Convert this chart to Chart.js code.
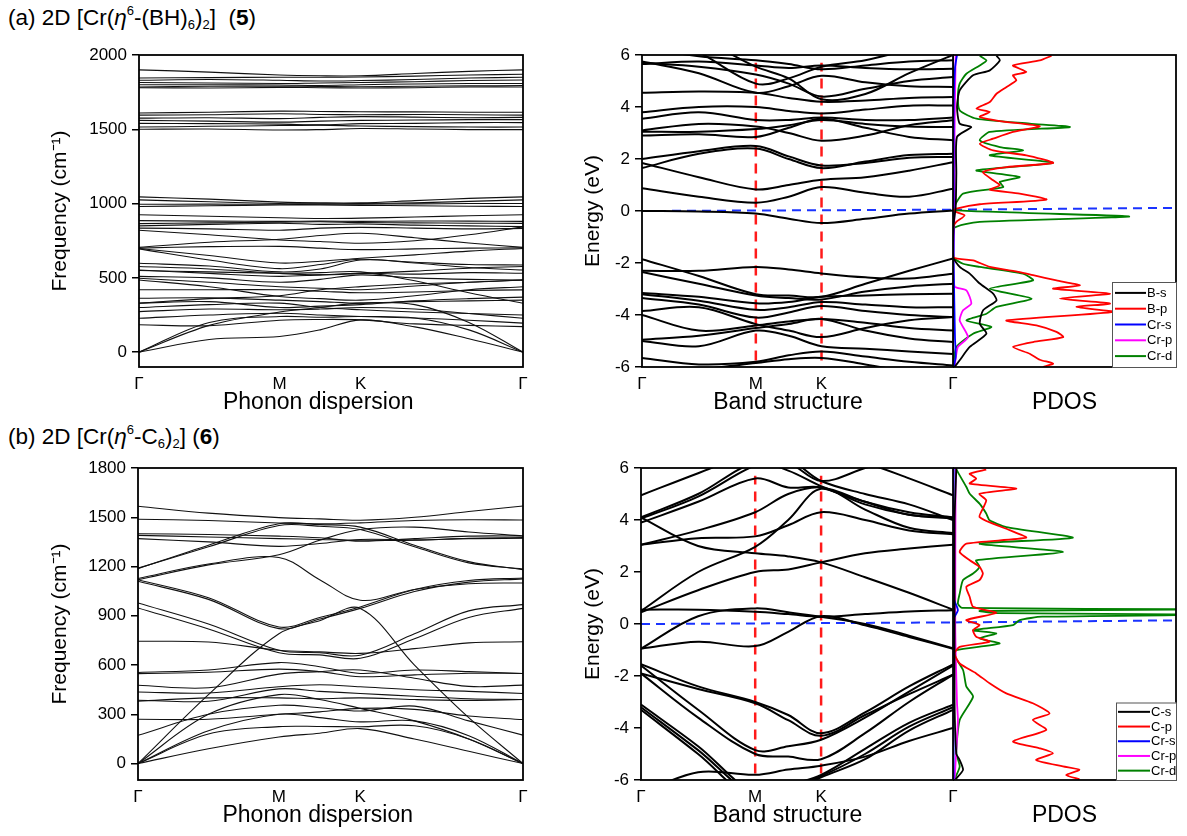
<!DOCTYPE html>
<html><head><meta charset="utf-8">
<script src="https://cdn.jsdelivr.net/npm/chart.js@4.4.0/dist/chart.umd.min.js"></script>
<style>
html,body{margin:0;padding:0;background:#fff;}
body{width:1187px;height:836px;position:relative;overflow:hidden;font-family:'Liberation Sans',Arial,sans-serif;}
canvas{position:absolute;}
.hdr{position:absolute;left:8px;font-size:22.5px;color:#000;white-space:pre;line-height:22px;}
.hdr sup,.hdr sub{font-size:13px;position:relative;vertical-align:baseline;line-height:0;}
.hdr sup{top:-0.75em;}
.hdr sub{top:0.3em;}
</style></head><body>
<div class="hdr" style="top:7px">(a) 2D [Cr(<i>η</i><sup>6</sup>-(BH)<sub>6</sub>)<sub>2</sub>]  (<b>5</b>)</div>
<div class="hdr" style="top:426px">(b) 2D [Cr(<i>η</i><sup>6</sup>-C<sub>6</sub>)<sub>2</sub>] (<b>6</b>)</div>
<canvas id="phA" width="540" height="378" style="left:0;top:40px"></canvas>
<canvas id="bsA" width="400" height="378" style="left:560px;top:40px"></canvas>
<canvas id="pdA" width="234" height="378" style="left:953px;top:40px"></canvas>
<canvas id="phB" width="540" height="378" style="left:0;top:453px"></canvas>
<canvas id="bsB" width="400" height="378" style="left:560px;top:453px"></canvas>
<canvas id="pdB" width="234" height="378" style="left:953px;top:453px"></canvas>
<script>
// ---------- path / ticks ----------
const kPath = [0, 0.5, 1, 1.289, 1.577, 1.962, 2.347, 2.732];
const kTicks = [0, 1, 1.577, 2.732];
const kLabels = ['Γ', 'M', 'K', 'Γ'];
const phononATicks = [0, 500, 1000, 1500, 2000];
const phononBTicks = [0, 300, 600, 900, 1200, 1500, 1800];
const energyTicks = [-6, -4, -2, 0, 2, 4, 6];
const symLineSpan = [-5.75, 5.7];
const fermiA = [0.0, 0.05, 0.12];
const fermiB = [0.0, 0.06, 0.14];
const pdosMax = 10;

// ---------- phonon (a) ----------
const phononA = [
 [1900,1885,1865,1860,1860,1875,1890,1900],
 [1845,1848,1850,1850,1852,1858,1865,1870],
 [1830,1835,1830,1825,1828,1835,1845,1850],
 [1815,1812,1808,1812,1815,1820,1828,1832],
 [1800,1800,1798,1795,1800,1805,1808,1808],
 [1785,1790,1790,1788,1786,1790,1792,1795],
 [1780,1778,1782,1780,1778,1780,1785,1785],
 [1610,1615,1622,1620,1618,1617,1615,1615],
 [1595,1598,1605,1600,1598,1600,1598,1595],
 [1575,1578,1572,1580,1585,1582,1578,1580],
 [1560,1555,1548,1555,1560,1562,1565,1565],
 [1540,1538,1535,1530,1538,1540,1545,1545],
 [1515,1520,1525,1528,1522,1518,1515,1515],
 [1500,1502,1495,1498,1505,1502,1498,1498],
 [1045,1030,1010,1005,1005,1020,1035,1045],
 [1025,1012,1000,998,1000,1005,1015,1025],
 [995,996,995,995,996,998,1000,1000],
 [980,985,990,990,988,985,982,980],
 [925,915,905,900,902,910,918,925],
 [885,882,880,882,880,883,882,880],
 [865,870,875,878,872,870,868,867],
 [850,860,868,860,862,855,850,845],
 [835,830,820,835,840,835,830,833],
 [820,790,755,745,733,750,790,843],
 [705,740,760,785,800,770,735,705],
 [700,710,712,700,690,695,700,702],
 [695,620,562,590,625,600,570,553],
 [698,650,600,612,632,655,680,698],
 [598,580,540,560,620,605,590,587],
 [576,560,530,520,530,545,565,576],
 [553,530,510,520,530,525,535,531],
 [510,500,470,490,520,500,490,486],
 [497,470,440,430,420,445,470,486],
 [420,420,420,410,400,405,415,419],
 [486,440,374,360,350,380,420,440],
 [363,365,350,340,330,340,345,350],
 [329,340,300,310,320,345,360,370],
 [300,320,330,300,285,270,260,250],
 [273,290,285,290,300,290,260,228],
 [228,250,262,250,240,230,215,195],
 [184,178,215,220,217,190,180,172],
 [330,360,380,420,441,460,470,486],
 [550,540,531,535,540,480,400,329],
 [0,85,105,150,217,170,90,0],
 [0,200,240,235,240,230,150,0],
 [0,180,270,300,330,320,200,0]
];

// ---------- phonon (b) ----------
const phononB = [
 [1567,1525,1498,1490,1482,1500,1535,1569],
 [1488,1480,1465,1460,1466,1480,1485,1483],
 [1400,1395,1385,1375,1354,1370,1385,1386],
 [1390,1380,1370,1365,1360,1360,1372,1376],
 [1370,1350,1323,1340,1365,1362,1370,1372],
 [1187,1330,1461,1455,1440,1330,1230,1181],
 [1190,1320,1450,1445,1425,1320,1222,1185],
 [1120,1210,1272,1360,1425,1440,1410,1386],
 [1127,1215,1255,1120,995,1060,1095,1100],
 [1120,1010,832,890,954,1060,1115,1130],
 [1110,1000,822,880,945,1048,1105,1125],
 [978,850,690,675,660,790,930,968],
 [948,820,675,662,641,760,890,945],
 [0,420,791,870,945,600,280,0],
 [745,740,690,680,671,700,735,742],
 [555,570,615,590,549,570,560,549],
 [548,556,575,560,529,540,550,549],
 [477,462,545,560,570,520,470,478],
 [436,430,468,480,468,450,440,427],
 [386,380,455,440,427,410,395,390],
 [380,400,400,395,400,390,385,390],
 [270,270,300,315,336,330,290,268],
 [172,300,355,340,320,350,260,173],
 [0,90,162,185,213,150,75,0],
 [0,200,300,280,254,260,170,0],
 [0,180,225,226,224,230,150,0],
 [0,300,420,390,336,260,150,0]
];

// ---------- band structure (a) ----------
const bandsA = [
 [0.88,0.55,0.32,0.55,0.92,0.7,0.55,0.86],
 [1.85,1.3,0.83,1.0,1.2,1.3,1.55,1.88],
 [2.0,2.3,2.5,2.1,1.75,1.85,2.05,2.08],
 [1.65,2.2,2.4,2.0,1.65,1.9,2.15,2.2],
 [2.9,2.95,2.85,3.2,3.55,3.2,2.85,2.72],
 [3.05,3.05,3.15,3.3,3.5,3.35,3.25,3.23],
 [3.1,3.35,3.25,3.0,2.7,2.9,3.3,3.49],
 [3.55,3.8,3.5,3.5,3.6,3.5,3.5,3.6],
 [3.8,4.0,4.0,3.85,3.75,3.9,4.05,4.06],
 [4.55,4.6,4.55,4.35,4.2,4.25,4.35,4.38],
 [5.75,5.3,4.55,4.8,5.2,4.95,4.8,4.77],
 [5.7,5.55,5.25,4.9,4.4,4.7,5.0,5.15],
 [5.65,5.75,5.6,5.5,5.6,5.5,5.45,5.47],
 [6.3,5.95,5.8,5.65,5.45,5.6,5.75,5.8],
 [7.0,6.1,4.9,5.1,5.55,5.8,6.2,6.5],
 [7.0,6.6,5.55,5.1,4.3,4.5,5.3,6.0],
 [0.0,-0.02,-0.1,-0.3,-0.46,-0.3,-0.1,0.02],
 [-1.85,-2.5,-3.2,-3.25,-3.3,-2.8,-2.3,-1.83],
 [-2.3,-2.3,-2.15,-2.25,-2.4,-2.55,-2.6,-2.41],
 [-2.35,-2.8,-3.25,-3.35,-3.4,-3.1,-2.9,-2.8],
 [-3.15,-3.3,-3.55,-3.5,-3.3,-3.25,-3.2,-3.18],
 [-3.2,-3.45,-3.8,-3.7,-3.5,-3.6,-3.7,-3.7],
 [-3.85,-3.7,-4.35,-4.6,-4.85,-4.5,-4.2,-4.08],
 [-4.0,-4.6,-4.4,-4.25,-4.15,-4.3,-4.5,-4.6],
 [-4.95,-4.8,-4.5,-4.35,-4.15,-4.6,-4.9,-5.04],
 [-5.0,-5.2,-4.6,-4.8,-5.2,-5.3,-5.4,-5.5],
 [-5.65,-5.9,-5.8,-5.55,-5.4,-5.6,-5.8,-5.94],
 [-6.3,-6.1,-5.85,-5.7,-5.65,-5.9,-6.2,-6.5],
 [-3.35,-3.6,-4.1,-3.9,-3.65,-3.85,-4.0,-4.08]
];

// ---------- band structure (b) ----------
const bandsB = [
 [0.55,0.55,0.47,0.38,0.28,0.38,0.48,0.53],
 [-0.95,0.3,0.6,0.45,0.28,0.0,-0.45,-0.93],
 [-0.95,-0.68,-0.85,-0.3,0.3,-0.05,-0.5,-0.95],
 [0.45,1.3,2.0,2.1,2.37,2.72,2.9,3.05],
 [4.1,3.0,2.72,2.6,2.37,1.8,1.2,0.55],
 [0.5,2.0,2.97,4.0,5.2,4.4,3.7,3.5],
 [3.05,3.3,3.37,3.8,4.3,4.0,3.6,3.45],
 [3.05,3.6,4.3,5.0,5.25,4.7,4.2,4.1],
 [4.95,5.8,6.6,6.6,6.6,6.2,5.6,4.95],
 [4.1,5.0,6.2,5.9,5.3,4.7,4.3,4.1],
 [3.9,4.7,5.6,5.25,5.25,4.6,4.2,4.05],
 [4.05,4.9,6.1,6.3,5.5,5.0,4.6,4.0],
 [6.6,6.6,6.3,6.2,5.5,6.0,6.5,6.6],
 [-1.55,-2.4,-3.0,-3.5,-4.2,-3.4,-2.4,-1.55],
 [-1.6,-3.3,-4.85,-4.7,-4.45,-3.6,-2.6,-1.6],
 [-1.9,-2.5,-3.05,-3.7,-4.3,-3.5,-2.7,-1.95],
 [-1.9,-3.6,-5.0,-5.1,-5.2,-4.2,-3.0,-1.95],
 [-3.1,-4.7,-6.5,-6.2,-5.8,-4.8,-3.8,-3.1],
 [-3.2,-4.85,-6.6,-6.3,-5.85,-5.0,-3.95,-3.2],
 [-3.3,-5.0,-6.8,-6.5,-5.9,-5.2,-4.1,-3.3],
 [-6.5,-5.7,-5.8,-5.6,-5.45,-5.1,-4.5,-4.0]
];

// ---------- PDOS (a): [energy eV, DOS] ----------
const pdosA_Bs = [[5.97,1.95],[5.79,2.1],[5.41,1.65],[5.22,0.9],[4.64,0.3],[4.0,0.18],[3.36,0.3],[3.23,0.82],[2.85,0.18],[1.44,0.15],[0.15,0.12],[-0.49,0.03],[-1.77,0.01],[-2.15,0.3],[-2.41,0.75],[-2.79,1.2],[-3.18,1.8],[-3.44,1.95],[-3.82,1.35],[-4.33,1.2],[-4.72,1.5],[-5.23,0.75],[-5.74,0.3],[-6.0,0.07]];
const pdosA_Bp = [[5.97,4.42],[5.79,3.89],[5.6,2.69],[5.35,3.29],[5.22,2.69],[5.03,2.84],[4.77,2.4],[4.51,1.95],[4.19,1.65],[3.94,1.05],[3.81,1.65],[3.62,1.2],[3.46,2.1],[3.26,3.89],[3.04,2.69],[2.78,1.8],[2.59,1.2],[2.33,1.8],[2.14,3.29],[1.85,4.49],[1.69,2.4],[1.5,1.35],[1.18,1.8],[0.99,2.1],[0.82,1.65],[0.67,2.99],[0.44,4.19],[0.26,1.2],[0.09,0.15],[0.0,0.03],[-0.17,0.52],[-0.42,0.15],[-0.62,0.01],[-1.77,0.01],[-1.9,0.9],[-2.15,1.65],[-2.35,2.99],[-2.47,3.59],[-2.67,4.64],[-2.86,5.69],[-2.99,4.49],[-3.18,7.04],[-3.37,4.79],[-3.56,7.04],[-3.69,5.54],[-3.88,7.19],[-4.21,2.4],[-4.4,3.74],[-4.65,4.64],[-4.85,4.94],[-5.04,3.59],[-5.23,2.69],[-5.49,3.44],[-5.72,3.89],[-5.87,4.49],[-6.0,4.04]];
const pdosA_Crs = [[6.0,0.18],[5.5,0.09],[4.0,0.03],[0.0,0.03],[-2.0,0.03],[-4.9,0.09],[-5.6,0.12],[-6.0,0.03]];
const pdosA_Crp = [[6.0,0.12],[3.0,0.07],[0.0,0.07],[-1.8,0.02],[-2.9,0.07],[-3.05,0.6],[-3.56,0.82],[-3.82,0.45],[-4.21,0.3],[-4.85,0.67],[-5.23,0.22],[-6.0,0.07]];
const pdosA_Crd = [[5.97,1.2],[5.79,1.5],[5.6,1.2],[5.28,0.6],[4.9,0.3],[4.38,0.22],[3.87,0.3],[3.55,1.05],[3.36,3.44],[3.23,5.24],[3.04,1.65],[2.72,1.2],[2.46,2.1],[2.33,3.14],[2.14,1.65],[1.85,4.49],[1.56,1.05],[1.31,2.99],[1.12,2.1],[0.92,2.25],[0.67,0.45],[0.28,0.12],[0.03,0.01],[-0.21,7.9],[-0.42,1.2],[-0.68,0.01],[-1.77,0.01],[-2.03,0.45],[-2.15,1.2],[-2.41,3.14],[-2.67,3.59],[-2.99,1.65],[-3.37,3.52],[-3.69,1.95],[-3.95,1.5],[-4.21,0.6],[-4.46,1.72],[-4.72,0.9],[-5.23,0.15],[-6.0,0.01]];

// ---------- PDOS (b) ----------
const pdosB_Cs = [[6.0,0.15],[4.0,0.07],[0.0,0.07],[-3.0,0.07],[-5.0,0.15],[-5.23,0.3],[-5.61,0.45],[-5.97,0.12]];
const pdosB_Cp = [[5.94,1.49],[5.78,0.75],[5.59,1.04],[5.4,0.75],[5.21,2.84],[5.01,1.19],[4.76,1.49],[4.44,1.34],[4.12,1.19],[3.86,1.79],[3.61,2.54],[3.32,3.28],[3.09,0.6],[2.77,0.3],[2.45,0.75],[2.2,1.19],[1.94,1.34],[1.69,1.19],[1.43,0.6],[1.04,0.75],[0.66,0.9],[0.43,1.94],[0.15,0.6],[-0.04,1.19],[-0.24,0.9],[-0.49,1.04],[-0.68,1.64],[-0.88,0.3],[-1.13,0.07],[-1.52,0.3],[-1.9,1.04],[-2.28,1.64],[-2.67,2.39],[-3.05,3.58],[-3.44,4.33],[-3.69,3.58],[-4.07,4.18],[-4.52,2.69],[-4.78,3.88],[-4.97,4.48],[-5.23,3.73],[-5.48,4.93],[-5.61,5.67],[-5.81,5.07],[-5.97,5.67]];
const pdosB_Crs = [[6.0,0.03],[1.0,0.03],[0.53,0.22],[0.2,0.03],[-6.0,0.03]];
const pdosB_Crp = [[6.0,0.12],[0.0,0.1],[-3.05,0.18],[-3.69,0.22],[-6.0,0.07]];
const pdosB_Crd = [[5.94,0.15],[5.27,0.6],[5.01,0.75],[4.63,1.19],[4.25,1.49],[3.99,1.64],[3.73,2.39],[3.32,5.37],[3.09,1.19],[2.77,4.93],[2.45,1.04],[2.2,1.19],[1.94,0.9],[1.69,0.45],[1.17,0.3],[0.78,0.22],[0.62,0.4],[0.56,12],[0.5,1.2],[0.42,2.0],[0.36,12],[0.28,4.0],[0.15,2.99],[-0.04,2.69],[-0.24,0.9],[-0.36,1.94],[-0.56,1.19],[-0.75,2.09],[-1.0,0.15],[-1.13,0.01],[-1.77,0.45],[-2.41,0.6],[-2.8,0.9],[-3.69,0.3],[-4.97,0.15],[-5.48,0.3],[-5.97,0.07]];

const pdosLabelsA = ['B-s', 'B-p', 'Cr-s', 'Cr-p', 'Cr-d'];
const pdosLabelsB = ['C-s', 'C-p', 'Cr-s', 'Cr-p', 'Cr-d'];
const pdosColors = ['#000000', '#ff0000', '#0000ff', '#ff00ff', '#008000'];

// ---------- helpers ----------
Chart.defaults.font.family = "'Liberation Sans', Arial, sans-serif";
Chart.defaults.color = '#000';

const framePlugin = {
  id: 'frame',
  afterDatasetsDraw(chart, args, opts) {
    const a = chart.chartArea, ctx = chart.ctx;
    ctx.save();
    ctx.strokeStyle = '#000';
    ctx.lineWidth = opts.width || 1.8;
    ctx.strokeRect(a.left, a.top, a.right - a.left, a.bottom - a.top);
    ctx.restore();
  }
};
const boxLegend = {
  id: 'boxLegend',
  afterDraw(chart, args, opts) {
    if (!opts || !opts.show) return;
    const a = chart.chartArea, ctx = chart.ctx;
    const items = chart.data.datasets.filter(d => d.inLegend);
    const h = items.length * opts.rowH + opts.padY * 2;
    const x0 = a.right - opts.width, y0 = a.bottom - h;
    ctx.save();
    ctx.fillStyle = '#fff';
    ctx.fillRect(x0, y0, opts.width, h);
    ctx.strokeStyle = '#555';
    ctx.lineWidth = 1;
    ctx.strokeRect(x0 + 0.5, y0 + 0.5, opts.width, h);
    ctx.font = opts.fontSize + "px 'Liberation Sans', Arial, sans-serif";
    ctx.textBaseline = 'middle';
    ctx.textAlign = 'left';
    items.forEach((d, i) => {
      const y = y0 + opts.padY + opts.rowH * (i + 0.5);
      ctx.strokeStyle = d.borderColor;
      ctx.lineWidth = 2;
      ctx.beginPath();
      ctx.moveTo(x0 + opts.lineX0, y);
      ctx.lineTo(x0 + opts.lineX1, y);
      ctx.stroke();
      ctx.fillStyle = '#000';
      ctx.fillText(d.label, x0 + opts.lineX1 + 1, y + 0.5);
    });
    ctx.restore();
  }
};
Chart.register(framePlugin, boxLegend);

const zeroPad = s => { s.paddingLeft = 0; s.paddingRight = 0; s.paddingTop = 0; s.paddingBottom = 0; };

function yAxis(min, max, ticks, width, title, titlePad) {
  return {
    type: 'linear', position: 'left', min, max,
    afterBuildTicks: s => { s.ticks = ticks.map(v => ({ value: v })); },
    afterFit: s => { s.width = width; zeroPad(s); },
    ticks: { font: { size: 17 }, padding: 5, callback: v => String(v) },
    grid: { display: true, drawOnChartArea: false, drawTicks: true, tickLength: 7, color: '#000', lineWidth: 1.5 },
    border: { display: false },
    title: { display: true, text: title, font: { size: 21 }, padding: { top: titlePad, bottom: 0 } }
  };
}
function hiddenY(min, max) {
  return { type: 'linear', position: 'left', min, max, display: false };
}
function xAxis(min, max, tickVals, labels, height, title, showTicks) {
  return {
    type: 'linear', position: 'bottom', min, max,
    afterBuildTicks: s => { s.ticks = tickVals.map(v => ({ value: v })); },
    afterFit: s => { s.height = height; zeroPad(s); },
    ticks: { display: showTicks, font: { size: 17 }, padding: 7, autoSkip: false, maxRotation: 0, callback: (v, i) => labels[i] },
    grid: { display: false, drawTicks: false },
    border: { display: false },
    title: { display: true, text: title, font: { size: 23 }, padding: { top: 0, bottom: 2 } }
  };
}
function bandSets(bands, color, width) {
  return bands.map(b => ({
    data: b.map((y, i) => ({ x: kPath[i], y })),
    borderColor: color, borderWidth: width, pointRadius: 0, showLine: true, tension: 0.35, fill: false
  }));
}
function symLines() {
  return [kTicks[1], kTicks[2]].map(k => ({
    data: symLineSpan.map(e => ({ x: k, y: e })),
    borderColor: '#ff1a1a', borderWidth: 2.5, borderDash: [10, 7], pointRadius: 0, showLine: true
  }));
}
function fermiSet(x0, x1, e0, e1) {
  return {
    data: [{ x: x0, y: e0 }, { x: x1, y: e1 }],
    borderColor: '#1a33ff', borderWidth: 2, borderDash: [9, 6], pointRadius: 0, showLine: true
  };
}
function pdosSets(curves, labels) {
  return curves.map((c, i) => ({
    label: labels[i], inLegend: true,
    data: c.map(p => ({ x: p[1], y: p[0] })),
    borderColor: pdosColors[i], borderWidth: 1.8, pointRadius: 0, showLine: true, tension: 0.2, fill: false
  }));
}
function baseOptions(padRight, scales, legendOpts) {
  return {
    responsive: false, animation: false, events: [],
    layout: { padding: { left: 0, top: 15, right: padRight, bottom: 0 } },
    plugins: { legend: { display: false }, tooltip: { enabled: false }, frame: { width: 1.8 }, boxLegend: legendOpts || { show: false } },
    scales
  };
}
const kMax = kTicks[kTicks.length - 1];

// ---------- (a) ----------
new Chart(document.getElementById('phA'), {
  type: 'scatter',
  data: { datasets: bandSets(phononA, '#111', 1.1) },
  options: baseOptions(17, {
    x: xAxis(0, kMax, kTicks, kLabels, 51, 'Phonon dispersion    ', true),
    y: yAxis(-100, 2000, phononATicks, 139, 'Frequency (cm⁻¹)', 48)
  })
});
new Chart(document.getElementById('bsA'), {
  type: 'scatter',
  data: { datasets: [...bandSets(bandsA, '#000', 2), ...symLines(), fermiSet(0, kMax, fermiA[0], fermiA[1])] },
  options: baseOptions(7, {
    x: xAxis(0, kMax, kTicks, kLabels, 51, 'Band structure   ', true),
    y: yAxis(-6, 6, energyTicks, 82, 'Energy (eV)', 21)
  })
});
new Chart(document.getElementById('pdA'), {
  type: 'scatter',
  data: { datasets: [...pdosSets([pdosA_Bs, pdosA_Bp, pdosA_Crs, pdosA_Crp, pdosA_Crd], pdosLabelsA), fermiSet(0, pdosMax, fermiA[1], fermiA[2])] },
  options: baseOptions(11, {
    x: xAxis(0, pdosMax, [], [], 51, 'PDOS', false),
    y: hiddenY(-6, 6)
  }, { show: true, width: 64, rowH: 15.8, padY: 3, fontSize: 13, lineX0: 3, lineX1: 34 })
});

// ---------- (b) ----------
new Chart(document.getElementById('phB'), {
  type: 'scatter',
  data: { datasets: bandSets(phononB, '#111', 1.1) },
  options: baseOptions(17, {
    x: xAxis(0, kMax, kTicks, kLabels, 51, 'Phonon dispersion    ', true),
    y: yAxis(-100, 1800, phononBTicks, 138, 'Frequency (cm⁻¹)', 48)
  })
});
new Chart(document.getElementById('bsB'), {
  type: 'scatter',
  data: { datasets: [...bandSets(bandsB, '#000', 2), ...symLines(), fermiSet(0, kMax, fermiB[0], fermiB[1])] },
  options: baseOptions(7, {
    x: xAxis(0, kMax, kTicks, kLabels, 51, 'Band structure   ', true),
    y: yAxis(-6, 6, energyTicks, 81, 'Energy (eV)', 21)
  })
});
new Chart(document.getElementById('pdB'), {
  type: 'scatter',
  data: { datasets: [...pdosSets([pdosB_Cs, pdosB_Cp, pdosB_Crs, pdosB_Crp, pdosB_Crd], pdosLabelsB), fermiSet(0, pdosMax, fermiB[1], fermiB[2])] },
  options: baseOptions(11, {
    x: xAxis(0, pdosMax, [], [], 51, 'PDOS', false),
    y: hiddenY(-6, 6)
  }, { show: true, width: 60, rowH: 14.7, padY: 2, fontSize: 13, lineX0: 2, lineX1: 34 })
});
</script>
</body></html>
